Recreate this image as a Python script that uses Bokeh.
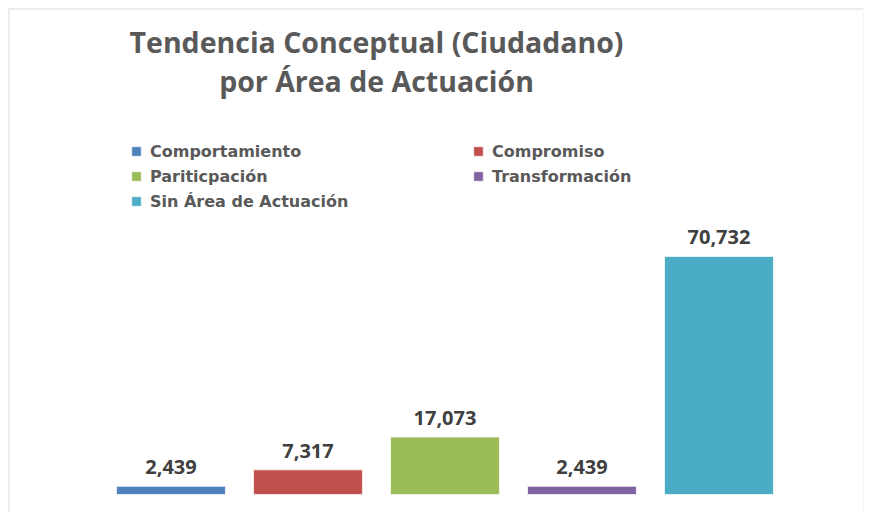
from bokeh.plotting import figure
from bokeh.models import Range1d, ColumnDataSource, Legend, LegendItem, Label, Span
from bokeh.embed import file_html
from bokeh.resources import INLINE
from bokeh.core.properties import value

categories = ["Comportamiento", "Compromiso", "Pariticpación", "Transformación", "Sin Área de Actuación"]
values = [2.439, 7.317, 17.073, 2.439, 70.732]
value_labels = ["2,439", "7,317", "17,073", "2,439", "70,732"]
colors = ["#4F81BD", "#C0504D", "#9BBB59", "#8064A2", "#4BACC6"]
title_lines = ["Tendencia Conceptual (Ciudadano)", "por Área de Actuación"]

positions = list(range(len(categories)))
src = ColumnDataSource(dict(x=positions, top=values, label=value_labels,
                            color=colors, name=categories))

x0, x1 = -1.186, 5.055
y0, y1 = -5.35, 144.4
p = figure(width=870, height=512, output_backend="svg", toolbar_location=None,
           x_range=Range1d(x0, x1), y_range=Range1d(y0, y1),
           x_axis_location=None, y_axis_location=None,
           min_border_left=8, min_border_top=8, min_border_right=7, min_border_bottom=0)
p.grid.visible = False
p.outline_line_color = None
p.background_fill_color = "white"
p.border_fill_color = "white"

# chart-area border (top, left, faint right)
p.add_layout(Span(location=y1, dimension="width", line_color="#d9d9d9", line_width=2))
p.add_layout(Span(location=x0, dimension="height", line_color="#d9d9d9", line_width=2))
p.add_layout(Span(location=x1, dimension="height", line_color="#eeeeee", line_width=1))

bars = p.vbar(x="x", top="top", bottom=0, width=0.795, source=src,
              fill_color="color", line_color="white", line_alpha=0.7, line_width=1)

p.text(x="x", y="top", text="label", source=src, text_align="center",
       text_baseline="alphabetic", y_offset=-19,
       text_font=value("Open Sans"), text_font_style="bold",
       text_font_size="20px", text_color="#404040")

title_y = [471, 432]
for line, ty in zip(title_lines, title_y):
    p.add_layout(Label(x=368, y=ty, x_units="screen", y_units="screen", text=line,
                       text_align="center", text_baseline="alphabetic",
                       text_font="Open Sans", text_font_style="bold",
                       text_font_size="28.5px", text_color="#595959"))

def make_legend(idx, loc):
    leg = Legend(items=[LegendItem(label=categories[i], renderers=[bars], index=i) for i in idx],
                 location=loc, orientation="vertical", padding=0, margin=0, spacing=5,
                 glyph_width=12, glyph_height=12, label_standoff=8, label_height=20,
                 label_text_font="DejaVu Sans", label_text_font_style="bold",
                 label_text_font_size="16px", label_text_color="#595959",
                 border_line_color=None, background_fill_alpha=0)
    return leg

p.add_layout(make_legend([0, 2, 4], (122, 301)), "center")
p.add_layout(make_legend([1, 3], (464, 326)), "center")

open("out.html", "w").write(file_html(p, INLINE))
